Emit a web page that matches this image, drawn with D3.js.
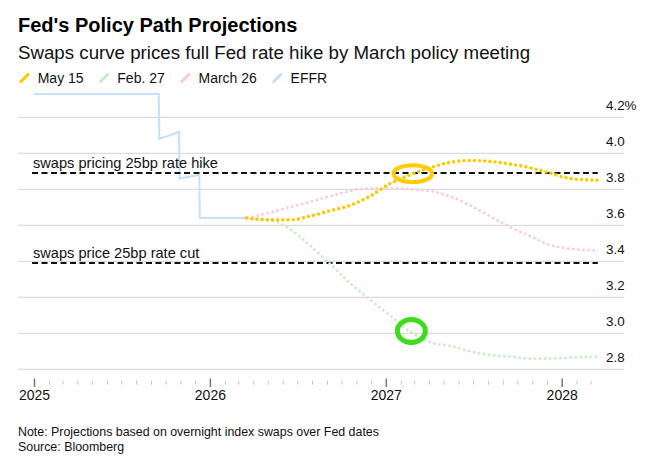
<!DOCTYPE html>
<html>
<head>
<meta charset="utf-8">
<script src="https://cdn.jsdelivr.net/npm/d3@7"></script>
<style>
    body { margin: 0; background: #fff; }
    svg { display: block; font-family: "Liberation Sans", Arial, sans-serif; }
</style>
</head>
<body>
<div id="chart"></div>
<script>

// ---- data ----
let effrDates  = ["2025-01-01", "2025-09-17", "2025-09-18", "2025-10-10", "2025-10-29",
                  "2025-10-30", "2025-12-10", "2025-12-11", "2026-03-18"];
let effrValues = [4.33, 4.33, 4.08, 4.10, 4.12, 3.86, 3.88, 3.64, 3.64];

let projDates = ["2026-03-18", "2026-05-05", "2026-06-15", "2026-07-27", "2026-09-06",
                 "2026-10-18", "2026-11-28", "2027-01-09", "2027-02-20", "2027-04-03",
                 "2027-05-15", "2027-06-25", "2027-08-05", "2027-09-16", "2027-10-27",
                 "2027-12-08", "2028-01-18", "2028-03-16"];
let may15   = [3.64, 3.63, 3.63, 3.65, 3.68, 3.71, 3.76, 3.83, 3.88, 3.92,
               3.95, 3.96, 3.955, 3.94, 3.92, 3.89, 3.86, 3.85];
let feb27   = [3.64, 3.63, 3.58, 3.49, 3.39, 3.28, 3.19, 3.10, 3.01, 2.95,
               2.93, 2.90, 2.88, 2.87, 2.86, 2.86, 2.865, 2.87];
let march26 = [3.64, 3.67, 3.70, 3.73, 3.76, 3.79, 3.805, 3.805, 3.80, 3.79,
               3.76, 3.71, 3.65, 3.59, 3.54, 3.49, 3.47, 3.46];

let seriesNames = ["May 15", "Feb. 27", "March 26", "EFFR"];
let yTicks = [2.8, 3.0, 3.2, 3.4, 3.6, 3.8, 4.0, 4.2];
let xYears = ["2025", "2026", "2027", "2028"];

let refLevels = [3.89, 3.39];
let refLabels = ["swaps pricing 25bp rate hike", "swaps price 25bp rate cut"];

// highlighted spots: [date, value]
let hikeSpot = ["2027-02-26", 3.887];
let cutSpot  = ["2027-02-23", 3.013];

let colors = {
    "May 15": "#fdc800",
    "Feb. 27": "#c6ecc6",
    "March 26": "#fcc8da",
    "EFFR": "#c4e1f8"
};

// ---- chart ----
let parseDate = d3.timeParse("%Y-%m-%d");
let width = 664, height = 460;

let svg = d3.select("#chart").append("svg")
    .attr("width", width)
    .attr("height", height);

svg.append("rect").attr("width", width).attr("height", height).attr("fill", "#fff");

// scales
let xScale = d3.scaleTime()
    .domain([parseDate("2025-01-01"), parseDate("2028-01-01")])
    .range([34, 561.7]);

let yScale = d3.scaleLinear()
    .domain([2.8, 4.2])
    .range([369.3, 117.3]);

let gridLeft = 18, gridRight = 624;

// titles
svg.append("text")
    .attr("x", 18).attr("y", 31.5)
    .attr("font-size", 20).attr("font-weight", "bold").attr("fill", "#000")
    .text("Fed's Policy Path Projections");

svg.append("text")
    .attr("x", 18).attr("y", 58.5)
    .attr("font-size", 18.7).attr("fill", "#111")
    .text("Swaps curve prices full Fed rate hike by March policy meeting");

// legend
let legend = svg.append("g").attr("class", "legend");
let lx = 19;
seriesNames.forEach(name => {
    legend.append("line")
        .attr("x1", lx + 1).attr("y1", 82.5)
        .attr("x2", lx + 10).attr("y2", 73.5)
        .attr("stroke", colors[name])
        .attr("stroke-width", 3);
    let t = legend.append("text")
        .attr("x", lx + 18.7).attr("y", 82.7)
        .attr("font-size", 14).attr("fill", "#111")
        .text(name);
    lx = lx + 18.7 + t.node().getComputedTextLength() + 15;
});

// horizontal grid
svg.append("g").attr("class", "grid")
    .selectAll("line")
    .data(yTicks)
    .join("line")
    .attr("x1", gridLeft).attr("x2", gridRight)
    .attr("y1", d => yScale(d)).attr("y2", d => yScale(d))
    .attr("stroke", "#d2d2d2")
    .attr("stroke-width", 1);

// y labels on the right, above the grid lines
svg.append("g").attr("class", "y-axis")
    .selectAll("text")
    .data(yTicks)
    .join("text")
    .attr("x", 606)
    .attr("y", d => yScale(d) - 7.5)
    .attr("font-size", 13.4).attr("fill", "#111")
    .text(d => d === 4.2 ? "4.2%" : d3.format(".1f")(d));

// x axis: minor monthly ticks + major year ticks
let minorMonths = d3.timeMonth.range(parseDate("2025-01-01"), parseDate("2028-03-02"))
    .filter(d => d.getMonth() !== 0);

let xMinor = d3.axisBottom(xScale)
    .tickValues(minorMonths)
    .tickSize(4)
    .tickFormat("");

let xMajor = d3.axisBottom(xScale)
    .tickValues(xYears.map(d => d3.timeParse("%Y")(d)))
    .tickSize(8.5)
    .tickFormat(d3.timeFormat("%Y"));

let gMinor = svg.append("g")
    .attr("class", "x-axis minor")
    .attr("transform", "translate(0,380.6)")
    .call(xMinor);
gMinor.select(".domain").remove();
gMinor.selectAll(".tick line").attr("stroke", "#c4c4c4").attr("stroke-width", 1);

let gMajor = svg.append("g")
    .attr("class", "x-axis major")
    .attr("transform", "translate(0,378.5)")
    .call(xMajor);
gMajor.select(".domain").remove();
gMajor.selectAll(".tick line").attr("stroke", "#777").attr("stroke-width", 1.5);
gMajor.selectAll(".tick text")
    .attr("y", 21).attr("dy", 0)
    .attr("font-size", 14)
    .attr("font-family", "'Liberation Sans', Arial, sans-serif")
    .attr("fill", "#111");

// build series
let effr = effrDates.map((d, i) => ({date: parseDate(d), value: effrValues[i]}));
let proj = {
    "Feb. 27": projDates.map((d, i) => ({date: parseDate(d), value: feb27[i]})),
    "March 26": projDates.map((d, i) => ({date: parseDate(d), value: march26[i]})),
    "May 15": projDates.map((d, i) => ({date: parseDate(d), value: may15[i]}))
};

let stepLine = d3.line()
    .x(d => xScale(d.date))
    .y(d => yScale(d.value));

let smoothLine = d3.line()
    .x(d => xScale(d.date))
    .y(d => yScale(d.value))
    .curve(d3.curveMonotoneX);

// EFFR
svg.append("path")
    .datum(effr)
    .attr("fill", "none")
    .attr("stroke", colors["EFFR"])
    .attr("stroke-width", 2)
    .attr("d", stepLine);

// reference dashed levels
let refStart = parseDate(effrDates[0]);
let refEnd = parseDate(projDates[projDates.length - 1]);

svg.append("g").attr("class", "refs")
    .selectAll("line")
    .data(refLevels)
    .join("line")
    .attr("x1", xScale(refStart) - 2).attr("x2", xScale(refEnd))
    .attr("y1", d => yScale(d)).attr("y2", d => yScale(d))
    .attr("stroke", "#111")
    .attr("stroke-width", 2)
    .attr("stroke-dasharray", "6 3.5");

svg.append("g").attr("class", "ref-labels")
    .selectAll("text")
    .data(refLevels)
    .join("text")
    .attr("x", 33)
    .attr("y", d => yScale(d) - 5)
    .attr("font-size", 14.6).attr("fill", "#111")
    .text((d, i) => refLabels[i]);

// projections (light ones first, May 15 on top)
svg.append("path")
    .datum(proj["Feb. 27"])
    .attr("fill", "none")
    .attr("stroke", colors["Feb. 27"])
    .attr("stroke-width", 2.5)
    .attr("stroke-dasharray", "2.5 2.6")
    .attr("d", smoothLine);

svg.append("path")
    .datum(proj["March 26"])
    .attr("fill", "none")
    .attr("stroke", colors["March 26"])
    .attr("stroke-width", 2.5)
    .attr("stroke-dasharray", "2.5 2.6")
    .attr("d", smoothLine);

svg.append("path")
    .datum(proj["May 15"])
    .attr("fill", "none")
    .attr("stroke", colors["May 15"])
    .attr("stroke-width", 3.6)
    .attr("stroke-linecap", "round")
    .attr("stroke-dasharray", "0 5.2")
    .attr("d", smoothLine);

// highlight rings
svg.append("ellipse")
    .attr("cx", xScale(parseDate(hikeSpot[0])))
    .attr("cy", yScale(hikeSpot[1]))
    .attr("rx", 19.3).attr("ry", 8.4)
    .attr("fill", "none")
    .attr("stroke", "#ffcc00")
    .attr("stroke-width", 4);

svg.append("ellipse")
    .attr("cx", xScale(parseDate(cutSpot[0])))
    .attr("cy", yScale(cutSpot[1]))
    .attr("rx", 14).attr("ry", 11.5)
    .attr("fill", "none")
    .attr("stroke", "#3fdc1c")
    .attr("stroke-width", 5);

// footnotes
svg.append("text")
    .attr("x", 18).attr("y", 436)
    .attr("font-size", 12.4).attr("fill", "#111")
    .text("Note: Projections based on overnight index swaps over Fed dates");

svg.append("text")
    .attr("x", 18).attr("y", 450.7)
    .attr("font-size", 12.4).attr("fill", "#111")
    .text("Source: Bloomberg");

</script>
</body>
</html>
